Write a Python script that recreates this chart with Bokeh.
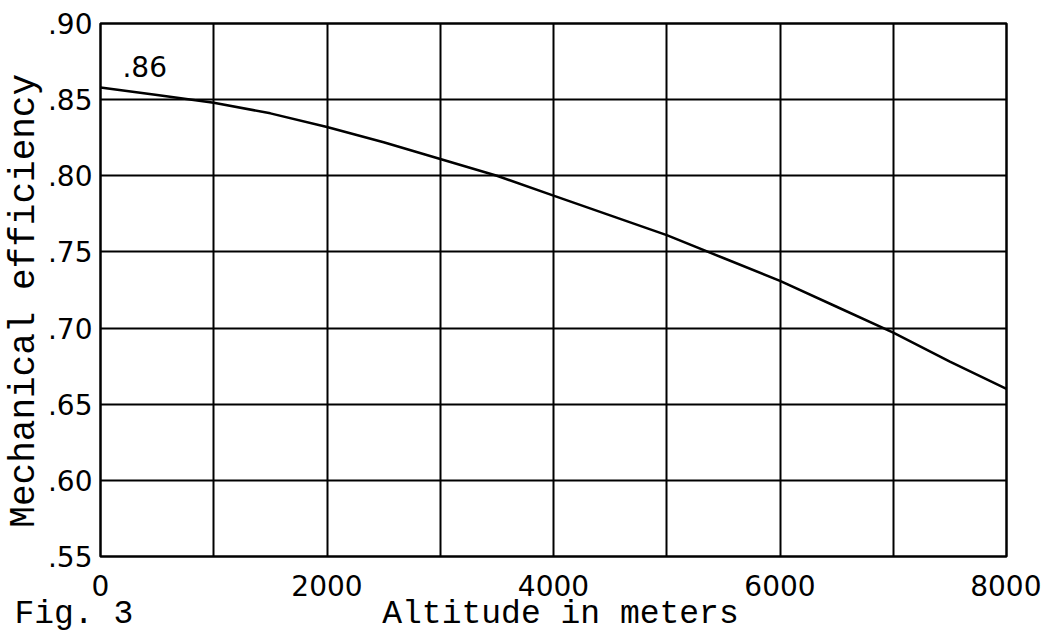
from bokeh.plotting import figure
from bokeh.models import FixedTicker, Label, Range1d, LinearAxis
from bokeh.embed import file_html
from bokeh.resources import INLINE

altitude = [0, 500, 1000, 1500, 2000, 2500, 3000, 3500, 4000, 4500, 5000,
            5500, 6000, 6500, 7000, 7500, 8000]
efficiency = [0.858, 0.853, 0.848, 0.841, 0.832, 0.822, 0.811, 0.800, 0.787,
              0.774, 0.761, 0.746, 0.731, 0.714, 0.697, 0.678, 0.660]
x_ticks = [0, 2000, 4000, 6000, 8000]
x_grid = [0, 1000, 2000, 3000, 4000, 5000, 6000, 7000, 8000]
y_ticks = [0.55, 0.60, 0.65, 0.70, 0.75, 0.80, 0.85, 0.90]
y_tick_labels = {0.55: ".55", 0.60: ".60", 0.65: ".65", 0.70: ".70",
                 0.75: ".75", 0.80: ".80", 0.85: ".85", 0.90: ".90"}
fig_caption = "Fig. 3"
x_title = "Altitude in meters"
y_title = "Mechanical efficiency"
point_label = ".86"

p = figure(width=1041, height=635, output_backend="svg", toolbar_location=None,
           x_range=Range1d(0, 8000), y_range=Range1d(0.55, 0.90))
p.min_border_left = 100
p.min_border_right = 35
p.min_border_top = 23
p.min_border_bottom = 77
p.background_fill_color = "white"
p.border_fill_color = "white"
p.outline_line_color = "black"
p.outline_line_width = 2.5

p.xaxis.ticker = FixedTicker(ticks=x_ticks)
p.yaxis.ticker = FixedTicker(ticks=y_ticks)
p.yaxis.major_label_overrides = y_tick_labels
p.xgrid.ticker = FixedTicker(ticks=x_grid)
p.ygrid.ticker = FixedTicker(ticks=y_ticks)
for g in (p.xgrid, p.ygrid):
    g.grid_line_color = "black"
    g.grid_line_width = 2
    g.grid_line_alpha = 1.0

for ax in (p.xaxis, p.yaxis):
    ax.axis_line_color = None
    ax.major_tick_line_color = None
    ax.minor_tick_line_color = None
    ax.major_label_text_font = "DejaVu Sans"
    ax.major_label_text_font_size = "28px"
    ax.major_label_text_color = "black"
p.xaxis.major_label_standoff = 12
p.yaxis.major_label_standoff = 2

# trailing no-break space nudges the rotated title slightly downward
p.yaxis.axis_label = y_title + "\u00a0"
p.yaxis.axis_label_text_font = "Liberation Mono"
p.yaxis.axis_label_text_font_size = "36px"
p.yaxis.axis_label_text_font_style = "normal"
p.yaxis.axis_label_text_color = "black"
p.yaxis.axis_label_standoff = 0

# caption row below the x axis: an extra axis whose tick labels carry the texts
p.extra_x_ranges = {"caption": Range1d(0, 906)}
cap_axis = LinearAxis(x_range_name="caption")
cap_axis.ticker = FixedTicker(ticks=[3, 460])
cap_axis.major_label_overrides = {3: fig_caption + "\u00a0" * 3, 460: x_title}
cap_axis.axis_line_color = None
cap_axis.major_tick_line_color = None
cap_axis.minor_tick_line_color = None
cap_axis.major_label_text_font = "Liberation Mono"
cap_axis.major_label_text_font_size = "33px"
cap_axis.major_label_text_color = "black"
cap_axis.major_label_standoff = -9
p.add_layout(cap_axis, "below")

p.line(altitude, efficiency, line_color="black", line_width=2.5)

p.add_layout(Label(x=194, y=0.8718, text=point_label, text_font="DejaVu Sans",
                   text_font_size="28px", text_baseline="middle", text_color="black"))

open("out.html", "w").write(file_html(p, INLINE))
